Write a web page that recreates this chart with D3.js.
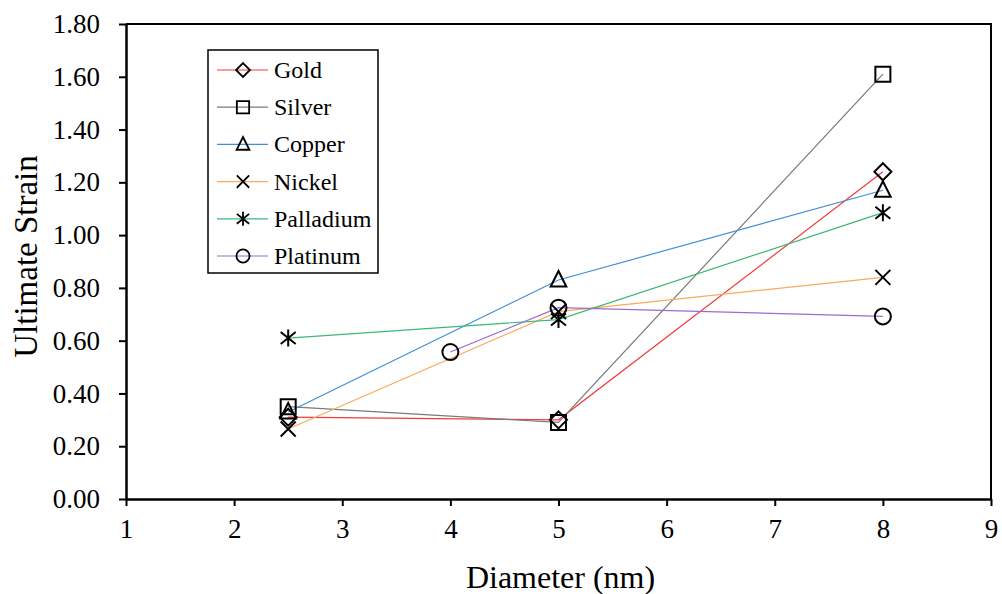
<!DOCTYPE html>
<html>
<head>
<meta charset="utf-8">
<script src="https://cdn.jsdelivr.net/npm/d3@7"></script>
<style>
  html, body { margin: 0; padding: 0; background: #fff; }
  svg { display: block; }
  text { font-family: "Liberation Serif", "Times New Roman", serif; fill: #000; }
</style>
</head>
<body>
<svg id="chart" width="1002" height="594"></svg>
<script>
// Ultimate strain vs. nanowire diameter for six metals
const goldX = [2.5, 5, 8];
const goldY = [0.31, 0.30, 1.24];
const silverX = [2.5, 5, 8];
const silverY = [0.35, 0.29, 1.61];
const copperX = [2.5, 5, 8];
const copperY = [0.33, 0.83, 1.17];
const nickelX = [2.5, 5, 8];
const nickelY = [0.265, 0.71, 0.84];
const palladiumX = [2.5, 5, 8];
const palladiumY = [0.61, 0.68, 1.085];
const platinumX = [4, 5, 8];
const platinumY = [0.557, 0.725, 0.692];

const seriesNames = ["Gold", "Silver", "Copper", "Nickel", "Palladium", "Platinum"];
const seriesColors = ["#f23c3c", "#7a7a7a", "#3d8fd9", "#fba95c", "#3ab877", "#9b6bd0"];
const seriesMarkers = ["diamond", "square", "triangle", "cross", "asterisk", "circle"];

const xTicks = [1, 2, 3, 4, 5, 6, 7, 8, 9];
const yTicks = [0, 0.2, 0.4, 0.6, 0.8, 1.0, 1.2, 1.4, 1.6, 1.8];

const series = [
  { name: seriesNames[0], xs: goldX, ys: goldY },
  { name: seriesNames[1], xs: silverX, ys: silverY },
  { name: seriesNames[2], xs: copperX, ys: copperY },
  { name: seriesNames[3], xs: nickelX, ys: nickelY },
  { name: seriesNames[4], xs: palladiumX, ys: palladiumY },
  { name: seriesNames[5], xs: platinumX, ys: platinumY }
].map((s, i) => ({
  ...s,
  color: seriesColors[i],
  marker: seriesMarkers[i],
  points: s.xs.map((x, j) => ({ x, y: s.ys[j] }))
}));

const svg = d3.select("#chart");
const plot = { left: 126, right: 991, top: 24, bottom: 499 };

const x = d3.scaleLinear().domain([1, 9]).range([plot.left, plot.right]);
const y = d3.scaleLinear().domain([0, 1.8]).range([plot.bottom, plot.top]);

// frame (top and right sides)
svg.append("path")
  .attr("d", `M${plot.left},${plot.top}H${plot.right}V${plot.bottom}`)
  .attr("fill", "none")
  .attr("stroke", "#000")
  .attr("stroke-width", 2);

// axes
const xAxis = svg.append("g")
  .attr("transform", `translate(0,${plot.bottom})`)
  .call(d3.axisBottom(x).tickValues(xTicks).tickFormat(d3.format("d")).tickSize(7).tickSizeOuter(0).tickPadding(13));
const yAxis = svg.append("g")
  .attr("transform", `translate(${plot.left},0)`)
  .call(d3.axisLeft(y).tickValues(yTicks).tickFormat(d3.format(".2f")).tickSize(7).tickSizeOuter(0).tickPadding(19));

[xAxis, yAxis].forEach(g => {
  g.select(".domain").attr("stroke", "#000").attr("stroke-width", 2.5);
  g.selectAll(".tick line").attr("stroke", "#000").attr("stroke-width", 2);
  g.selectAll(".tick text")
    .attr("font-family", "'Liberation Serif', 'Times New Roman', serif")
    .attr("font-size", 27)
    .attr("fill", "#000");
});

// axis titles
svg.append("text")
  .attr("x", (plot.left + plot.right) / 2 + 2)
  .attr("y", 588)
  .attr("text-anchor", "middle")
  .attr("font-size", 32)
  .text("Diameter (nm)");
svg.append("text")
  .attr("transform", `translate(37,${(plot.top + plot.bottom) / 2 - 5}) rotate(-90)`)
  .attr("text-anchor", "middle")
  .attr("font-size", 33)
  .text("Ultimate Strain");

// hollow marker outlines, centred on the data point
function markerPath(type) {
  const p = d3.path();
  switch (type) {
    case "diamond":
      p.moveTo(0, -8.5); p.lineTo(8.5, 0); p.lineTo(0, 8.5); p.lineTo(-8.5, 0); p.closePath();
      break;
    case "square":
      p.rect(-7.5, -7.5, 15, 15);
      break;
    case "triangle":
      p.moveTo(0, -9); p.lineTo(7.8, 6.5); p.lineTo(-7.8, 6.5); p.closePath();
      break;
    case "cross":
      p.moveTo(-7.5, -7.5); p.lineTo(7.5, 7.5); p.moveTo(-7.5, 7.5); p.lineTo(7.5, -7.5);
      break;
    case "asterisk":
      p.moveTo(0, -8.5); p.lineTo(0, 8.5);
      p.moveTo(-7.5, -6); p.lineTo(7.5, 6); p.moveTo(-7.5, 6); p.lineTo(7.5, -6);
      break;
    case "circle":
      p.arc(0, 0, 8, 0, 2 * Math.PI);
      break;
  }
  return p.toString();
}

const line = d3.line().x(d => x(d.x)).y(d => y(d.y));

const gSeries = svg.append("g");
series.forEach(s => {
  gSeries.append("path")
    .datum(s.points)
    .attr("fill", "none")
    .attr("stroke", s.color)
    .attr("stroke-width", 1.2)
    .attr("d", line);
});
series.forEach(s => {
  gSeries.selectAll(null)
    .data(s.points)
    .join("path")
    .attr("transform", d => `translate(${x(d.x)},${y(d.y)})`)
    .attr("d", markerPath(s.marker))
    .attr("fill", "none")
    .attr("stroke", "#000")
    .attr("stroke-width", 2);
});

// legend
const legend = svg.append("g").attr("transform", "translate(208,50)");
legend.append("rect")
  .attr("x", 0).attr("y", 0)
  .attr("width", 170).attr("height", 223)
  .attr("fill", "#fff")
  .attr("stroke", "#000")
  .attr("stroke-width", 1.5);
series.forEach((s, i) => {
  const row = legend.append("g").attr("transform", `translate(0,${20 + i * 37.2})`);
  row.append("line")
    .attr("x1", 9).attr("x2", 60)
    .attr("stroke", s.color)
    .attr("stroke-width", 1.2);
  row.append("path")
    .attr("transform", "translate(35,0) scale(0.82)")
    .attr("d", markerPath(s.marker))
    .attr("fill", "none")
    .attr("stroke", "#000")
    .attr("stroke-width", 2.2);
  row.append("text")
    .attr("x", 66)
    .attr("y", 8)
    .attr("font-size", 24)
    .text(s.name);
});
</script>
</body>
</html>
